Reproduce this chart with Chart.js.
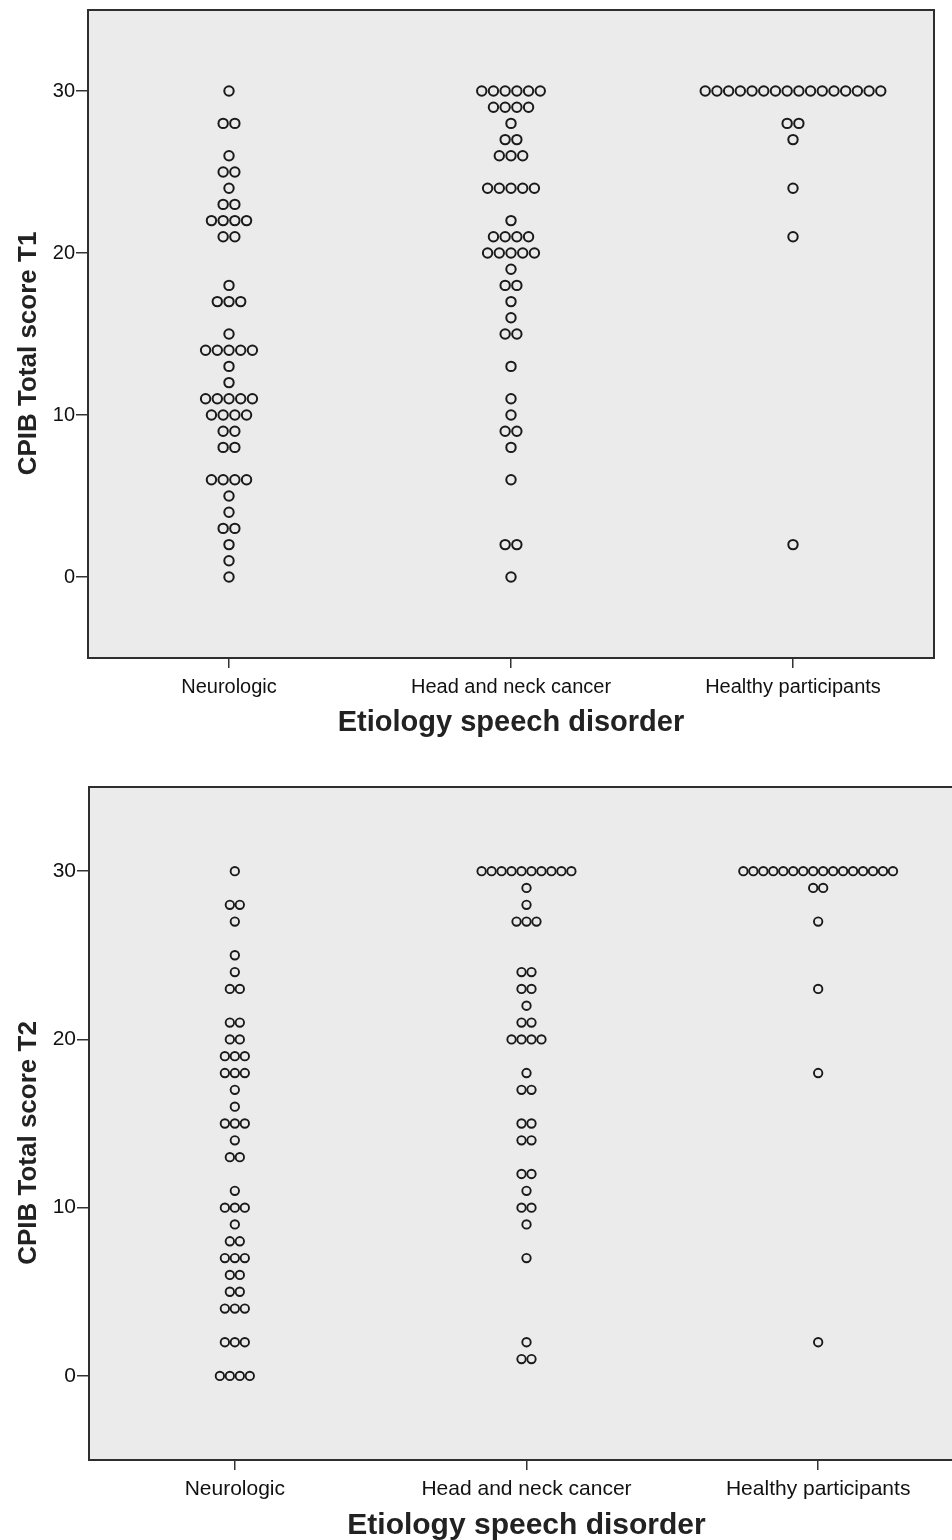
<!DOCTYPE html>
<html>
<head>
<meta charset="utf-8">
<script src="https://cdn.jsdelivr.net/npm/chart.js@4.4.1/dist/chart.umd.min.js"></script>
<style>
  body { margin: 0; background: #fff; overflow: hidden; width: 952px; height: 1540px; }
  canvas { display: block; }
</style>
</head>
<body>
<canvas id="chartT1" width="952" height="770"></canvas>
<canvas id="chartT2" width="980" height="780"></canvas>
<script>
const categories = ['Neurologic', 'Head and neck cancer', 'Healthy participants'];
const yTicks = [0, 10, 20, 30];

// T1 : score -> number of participants
const neuroT1Scores = [30, 28, 26, 25, 24, 23, 22, 21, 18, 17, 15, 14, 13, 12, 11, 10, 9, 8, 6, 5, 4, 3, 2, 1, 0];
const neuroT1Counts = [1, 2, 1, 2, 1, 2, 4, 2, 1, 3, 1, 5, 1, 1, 5, 4, 2, 2, 4, 1, 1, 2, 1, 1, 1];
const hncT1Scores = [30, 29, 28, 27, 26, 24, 22, 21, 20, 19, 18, 17, 16, 15, 13, 11, 10, 9, 8, 6, 2, 0];
const hncT1Counts = [6, 4, 1, 2, 3, 5, 1, 4, 5, 1, 2, 1, 1, 2, 1, 1, 1, 2, 1, 1, 2, 1];
const healthyT1Scores = [30, 28, 27, 24, 21, 2];
const healthyT1Counts = [16, 2, 1, 1, 1, 1];

// T2
const neuroT2Scores = [30, 28, 27, 25, 24, 23, 21, 20, 19, 18, 17, 16, 15, 14, 13, 11, 10, 9, 8, 7, 6, 5, 4, 2, 0];
const neuroT2Counts = [1, 2, 1, 1, 1, 2, 2, 2, 3, 3, 1, 1, 3, 1, 2, 1, 3, 1, 2, 3, 2, 2, 3, 3, 4];
const hncT2Scores = [30, 29, 28, 27, 24, 23, 22, 21, 20, 18, 17, 15, 14, 12, 11, 10, 9, 7, 2, 1];
const hncT2Counts = [10, 1, 1, 3, 2, 2, 1, 2, 4, 1, 2, 2, 2, 2, 1, 2, 1, 1, 1, 2];
const healthyT2Scores = [30, 29, 27, 23, 18, 2];
const healthyT2Counts = [16, 2, 1, 1, 1, 1];

// stack equal scores side by side around the category centre
function dotPoints(groups, step) {
  const pts = [];
  groups.forEach(([scores, counts], i) => {
    scores.forEach((v, k) => {
      const n = counts[k];
      for (let j = 0; j < n; j++) {
        pts.push({ x: i + (j - (n - 1) / 2) * step, y: v });
      }
    });
  });
  return pts;
}

const framePlugin = {
  id: 'frame',
  beforeDraw(chart) {
    const { ctx, chartArea: a } = chart;
    ctx.save();
    ctx.fillStyle = '#ebebeb';
    ctx.fillRect(a.left, a.top, a.right - a.left, a.bottom - a.top);
    ctx.restore();
  },
  afterDraw(chart) {
    const { ctx, chartArea: a } = chart;
    ctx.save();
    ctx.strokeStyle = '#2e2e2e';
    ctx.lineWidth = 2;
    ctx.strokeRect(a.left, a.top, a.right - a.left, a.bottom - a.top);
    ctx.restore();
  }
};

function makeChart(id, groups, opt) {
  return new Chart(document.getElementById(id), {
    type: 'scatter',
    data: {
      datasets: [{
        data: dotPoints(groups, opt.step),
        pointRadius: opt.radius,
        pointHoverRadius: opt.radius,
        pointBorderWidth: opt.border,
        pointBorderColor: '#1a1a1a',
        pointBackgroundColor: 'rgba(0,0,0,0)'
      }]
    },
    options: {
      responsive: false,
      animation: false,
      events: [],
      layout: { padding: opt.padding },
      plugins: { legend: { display: false }, tooltip: { enabled: false } },
      scales: {
        x: {
          type: 'linear',
          min: -0.5,
          max: 2.5,
          afterBuildTicks: s => { s.ticks = categories.map((c, i) => ({ value: i })); },
          afterFit: s => { s.height = opt.xHeight; s.paddingLeft = 0; s.paddingRight = 0; },
          border: { display: false },
          grid: { drawOnChartArea: false, drawTicks: true, tickLength: 10, color: '#333', lineWidth: 1.5 },
          ticks: {
            callback: v => categories[v],
            color: '#111',
            font: { family: 'Liberation Sans', size: opt.tickSize },
            padding: 7,
            maxRotation: 0
          },
          title: {
            display: true,
            text: 'Etiology speech disorder',
            color: '#222',
            font: { family: 'Liberation Sans', size: opt.xTitleSize, weight: 'bold' },
            padding: { top: 0, bottom: opt.xTitlePad }
          }
        },
        y: {
          min: -5,
          max: 35,
          afterBuildTicks: s => { s.ticks = yTicks.map(v => ({ value: v })); },
          afterFit: s => { s.width = opt.yWidth; s.paddingTop = 0; s.paddingBottom = 0; },
          border: { display: false },
          grid: { drawOnChartArea: false, drawTicks: true, tickLength: 12, color: '#333', lineWidth: 1.5 },
          ticks: {
            color: '#111',
            font: { family: 'Liberation Sans', size: opt.tickSize },
            padding: 1
          },
          title: {
            display: true,
            // en spaces at the end push the visible title slightly down, as in the original
            text: opt.yTitle + '\u2002\u2002\u2002',
            color: '#222',
            font: { family: 'Liberation Sans', size: opt.yTitleSize, weight: 'bold' },
            padding: { top: 13, bottom: 0 }
          }
        }
      }
    },
    plugins: [framePlugin]
  });
}

makeChart('chartT1',
  [[neuroT1Scores, neuroT1Counts], [hncT1Scores, hncT1Counts], [healthyT1Scores, healthyT1Counts]],
  { step: 0.0415, radius: 4.7, border: 2, padding: { top: 10, right: 18, left: 0, bottom: 0 },
    xHeight: 112, yWidth: 88, tickSize: 20, xTitleSize: 29, xTitlePad: 30,
    yTitle: 'CPIB Total score T1', yTitleSize: 26 });

makeChart('chartT2',
  [[neuroT2Scores, neuroT2Counts], [hncT2Scores, hncT2Counts], [healthyT2Scores, healthyT2Counts]],
  { step: 0.0342, radius: 4.2, border: 1.9, padding: { top: 17, right: 16, left: 0, bottom: 0 },
    xHeight: 90, yWidth: 89, tickSize: 21, xTitleSize: 30, xTitlePad: 6,
    yTitle: 'CPIB Total score T2', yTitleSize: 26 });
</script>
</body>
</html>
